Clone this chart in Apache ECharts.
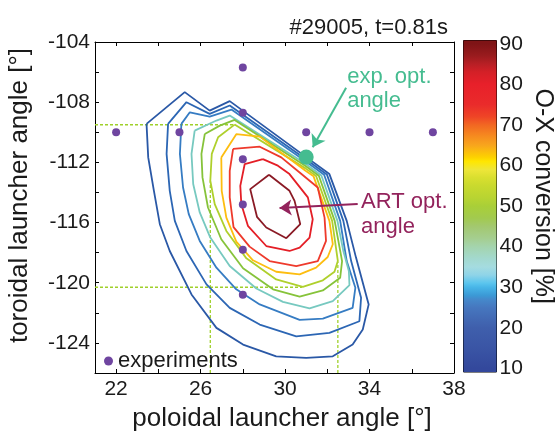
<!DOCTYPE html>
<html><head><meta charset="utf-8">
<script src="https://cdn.jsdelivr.net/npm/echarts@6/dist/echarts.min.js"></script>
<style>html,body{margin:0;padding:0;background:#fff}#c{width:558px;height:432px}</style>
</head><body><div id="c"></div>
<script>
// ---- data ----
const xTicks = [22,24,26,28,30,32,34,36,38];
const xTickLabels = [22,26,30,34,38];
const yTicks = [-126,-124,-122,-120,-118,-116,-114,-112,-110,-108,-106,-104];
const yTickLabels = [-124,-120,-116,-112,-108,-104];
const cbTickLabels = [10,20,30,40,50,60,70,80,90];
const cbMin = 9.1, cbMax = 90.8;
const cbValues = [9.1,10,15,20,22,25,27,28,30,31,33,35,37,40,42,45,47,50,52,55,57,59,61,62,65,67,70,72,75,80,83,85,87,90,90.8];
const cbColors = ['#33489c','#33489c','#3a55a5','#3f5fac','#4268b3','#4677bf','#4589cb','#3b9ad6','#48b6e8','#5bc5ee','#8fd4e8','#a5dce0','#a3d9cf','#a4d4ad','#a5ce90','#a3c86f','#a2ca4f','#a9cf38','#b8d432','#c9da2e','#d9df2f','#eee639','#ffe600','#fdd200','#f8a51d','#f68e1f','#f26722','#ef4526','#ea2b2b','#e8202a','#d42027','#b81f25','#9a1b1e','#7f1416','#7f1416'];

const expX = [22,25,31,34,37,28,28,28,28,28,28];
const expY = [-110,-110,-110,-110,-110,-105.7,-108.7,-111.8,-114.8,-117.8,-120.8];
const optX = [31];
const optY = [-111.65];

const contour1 = [[23.44,-109.44],[25.25,-107.33],[26.43,-108.56],[27.38,-107.93],[30.97,-111.62],[32.10,-112.78],[32.92,-115.89],[33.36,-118.33],[33.96,-121.44],[33.68,-123.11],[33.20,-124.11],[32.26,-124.89],[31.0,-125.0],[29.58,-124.89],[28.01,-124.11],[26.75,-123.0],[25.57,-120.78],[24.54,-117.89],[24.07,-116.11],[23.79,-113.89],[23.52,-111.67],[23.44,-109.44]];
const contour2 = [[24.46,-109.44],[25.33,-108.0],[26.43,-108.78],[27.38,-108.22],[30.97,-111.78],[31.98,-112.8],[32.76,-115.89],[33.13,-118.56],[33.60,-121.0],[33.52,-122.56],[32.10,-123.33],[30.53,-123.56],[28.80,-122.78],[27.38,-121.67],[26.28,-120.11],[25.33,-117.89],[24.78,-115.89],[24.54,-113.89],[24.39,-111.44],[24.46,-109.44]];
const contour3 = [[25.09,-109.44],[25.49,-108.67],[26.43,-108.96],[27.46,-108.49],[30.97,-111.93],[31.85,-112.82],[32.61,-115.89],[32.92,-118.56],[33.33,-120.33],[33.20,-121.67],[31.79,-122.38],[30.69,-122.47],[28.80,-121.44],[27.69,-120.44],[26.75,-119.0],[25.96,-117.22],[25.44,-115.44],[25.17,-113.67],[25.02,-111.44],[25.09,-109.44]];
const contour4 = [[25.72,-109.89],[26.75,-109.22],[27.38,-108.89],[30.97,-112.09],[31.72,-112.87],[32.48,-115.89],[32.76,-117.89],[33.02,-119.22],[33.05,-120.16],[32.26,-121.22],[31.16,-121.71],[29.90,-121.27],[28.64,-120.38],[27.38,-118.89],[26.46,-117.0],[25.96,-115.33],[25.65,-113.44],[25.57,-111.44],[25.72,-109.89]];
const contour5 = [[26.20,-110.11],[26.91,-109.56],[27.61,-109.18],[30.97,-112.24],[31.60,-112.89],[32.35,-115.89],[32.70,-118.56],[32.61,-119.67],[31.79,-120.51],[30.69,-120.93],[29.43,-120.44],[28.01,-119.04],[26.98,-117.11],[26.35,-115.0],[26.09,-113.0],[26.04,-111.44],[26.20,-110.11]];
const contour6 = [[27.61,-109.49],[30.97,-112.4],[31.47,-112.91],[32.23,-115.89],[32.50,-118.56],[32.34,-119.27],[31.79,-119.84],[30.84,-120.27],[29.58,-119.78],[28.17,-118.38],[27.22,-116.56],[26.67,-114.78],[26.46,-113.22],[26.53,-111.44],[26.83,-110.33],[27.61,-109.49]];
const contour7 = [[26.98,-111.67],[27.69,-110.13],[28.80,-110.29],[30.97,-112.56],[31.35,-112.93],[32.10,-115.89],[32.26,-117.44],[32.02,-118.29],[31.47,-119.0],[30.69,-119.44],[29.58,-119.27],[28.48,-118.51],[27.69,-117.27],[27.22,-115.67],[27.0,-113.89],[26.98,-111.67]];
const contour8 = [[27.54,-111.11],[28.80,-110.96],[29.82,-111.67],[30.69,-112.67],[31.55,-113.67],[31.87,-115.67],[31.94,-117.22],[31.55,-118.56],[30.53,-118.89],[29.27,-118.56],[28.32,-117.6],[27.56,-116.3],[27.38,-114.33],[27.38,-112.56],[27.54,-111.11]];
const contour9 = [[28.95,-111.78],[29.66,-112.22],[30.21,-112.78],[31.08,-114.33],[31.31,-115.78],[31.16,-117.0],[30.69,-117.67],[30.21,-117.89],[29.11,-117.56],[28.24,-116.22],[27.93,-114.78],[27.88,-113.56],[28.09,-112.11],[28.95,-111.78]];
const contour10 = [[29.24,-112.82],[30.21,-113.89],[30.45,-114.56],[30.72,-116.11],[30.06,-117.04],[29.11,-116.33],[28.67,-115.62],[28.35,-113.78],[29.24,-112.82]];
const contourLines = [contour1,contour2,contour3,contour4,contour5,contour6,contour7,contour8,contour9,contour10];
const contourColors = ['#2a58a6','#2c66b4','#367cc3','#77c9c0','#86c33a','#afd02c','#fdbd10','#ee3a2c','#e41e26','#8a1a25'];

const dashTop = [[21,-109.5],[27.55,-109.5]];
const dashBottom = [[21,-120.3],[30.8,-120.3]];
const dashLeft = [[26.46,-126],[26.46,-113.2]];
const dashRight = [[32.5,-126],[32.5,-118.6]];

const expArrow = [[32.89,-107.04],[31.31,-111.0]];
const artArrow = [[33.44,-114.77],[29.74,-115.04]];
const expLabelPos = [32.94,-107.15];
const artLabelPos = [33.6,-115.49];

// ---- chart ----
const FONT = 'Liberation Sans';
const TXT = '#1a1a1a';
const chart = echarts.init(document.getElementById('c'), null, {renderer:'canvas'});

const span = cbMax - cbMin;
const stops = cbValues.map((v,i)=>({offset: Math.min(1,Math.max(0,(v-cbMin)/span)), color: cbColors[i]}));

const axisCommon = {
  axisLine:{show:true,onZero:false,lineStyle:{color:'#000',width:1}},
  splitLine:{show:false}
};

const series = [];
[dashTop,dashBottom,dashLeft,dashRight].forEach(d=>{
  series.push({type:'line',data:d,xAxisIndex:0,yAxisIndex:0,showSymbol:false,symbol:'none',z:2,
    lineStyle:{color:'#9fd02a',width:1.3,type:[3,2],opacity:1},silent:true});
});
contourLines.forEach((d,i)=>{
  series.push({type:'line',data:d,xAxisIndex:0,yAxisIndex:0,showSymbol:false,symbol:'none',z:3,
    lineStyle:{color:contourColors[i],width:1.8,opacity:1},silent:true});
});
series.push({type:'lines',coordinateSystem:'cartesian2d',xAxisIndex:0,yAxisIndex:0,z:5,
  symbol:['none','arrow'],symbolSize:12,
  data:[{coords:expArrow}],lineStyle:{color:'#45bc90',width:2,opacity:1,curveness:0},silent:true});
series.push({type:'lines',coordinateSystem:'cartesian2d',xAxisIndex:0,yAxisIndex:0,z:5,
  symbol:['none','arrow'],symbolSize:12,
  data:[{coords:artArrow}],lineStyle:{color:'#93235c',width:2,opacity:1,curveness:0},silent:true});
series.push({name:'experiments',type:'scatter',xAxisIndex:0,yAxisIndex:0,z:6,
  data:expX.map((x,i)=>[x,expY[i]]),symbolSize:8,itemStyle:{color:'#6f45a0',opacity:1}});
series.push({type:'scatter',xAxisIndex:0,yAxisIndex:0,z:6,
  data:optX.map((x,i)=>[x,optY[i]]),symbolSize:15,itemStyle:{color:'#45bc90',opacity:1}});
series.push({type:'scatter',xAxisIndex:0,yAxisIndex:0,z:7,symbolSize:0,itemStyle:{opacity:1},
  data:[expLabelPos],label:{show:true,position:'right',distance:0,formatter:'exp. opt.\nangle',
    fontFamily:FONT,fontSize:22,lineHeight:24,color:'#45bc90',align:'left'}});
series.push({type:'scatter',xAxisIndex:0,yAxisIndex:0,z:7,symbolSize:0,itemStyle:{opacity:1},
  data:[artLabelPos],label:{show:true,position:'right',distance:0,formatter:'ART opt.\nangle',
    fontFamily:FONT,fontSize:22,lineHeight:25,color:'#93235c',align:'left'}});
// colorbar
series.push({type:'bar',xAxisIndex:2,yAxisIndex:2,stack:'cb',barWidth:'100%',data:[cbMin],
  itemStyle:{color:'rgba(0,0,0,0)'},silent:true});
series.push({type:'bar',xAxisIndex:2,yAxisIndex:2,stack:'cb',barWidth:'100%',data:[cbMax-cbMin],
  itemStyle:{color:{type:'linear',x:0,y:1,x2:0,y2:0,colorStops:stops}},silent:true});

chart.setOption({
  animation:false,
  backgroundColor:'#fff',
  textStyle:{fontFamily:FONT},
  title:{text:'#29005, t=0.81s',right:105,top:12,textStyle:{fontFamily:FONT,fontSize:22,fontWeight:'normal',color:TXT}},
  legend:{data:[{name:'experiments',icon:'circle'}],left:99,top:345,itemWidth:9,itemHeight:9,itemGap:5,
    textStyle:{fontFamily:FONT,fontSize:22,color:TXT}},
  grid:[
    {left:95,top:42,width:359,height:331,outerBoundsMode:'none',containLabel:false},
    {left:463.5,top:40.5,width:33,height:331.5,show:true,borderColor:'#000',borderWidth:1,backgroundColor:'rgba(0,0,0,0)',outerBoundsMode:'none',containLabel:false}
  ],
  xAxis:[
    Object.assign({type:'value',gridIndex:0,min:21,max:38,position:'bottom',
      axisTick:{show:true,inside:true,length:4,customValues:xTicks,lineStyle:{color:'#000'}},
      axisLabel:{show:true,customValues:xTickLabels,margin:6,fontFamily:FONT,fontSize:21,color:TXT},
      name:'poloidal launcher angle [°]',nameLocation:'middle',nameGap:33,
      nameTextStyle:{fontFamily:FONT,fontSize:26,color:TXT,padding:[0,0,0,15]}},axisCommon),
    Object.assign({type:'value',gridIndex:0,min:21,max:38,position:'top',
      axisTick:{show:true,inside:true,length:4,customValues:xTicks,lineStyle:{color:'#000'}},
      axisLabel:{show:false}},axisCommon),
    {type:'category',gridIndex:1,data:['cb'],show:false}
  ],
  yAxis:[
    Object.assign({type:'value',gridIndex:0,min:-126,max:-104,position:'left',
      axisTick:{show:true,inside:true,length:4,customValues:yTicks,lineStyle:{color:'#000'}},
      axisLabel:{show:true,customValues:yTickLabels,margin:5,fontFamily:FONT,fontSize:21,color:TXT},
      name:'toroidal launcher angle [°]',nameLocation:'middle',nameRotate:90,nameGap:62,
      nameTextStyle:{fontFamily:FONT,fontSize:26,color:TXT,padding:[0,0,0,24]}},axisCommon),
    Object.assign({type:'value',gridIndex:0,min:-126,max:-104,position:'right',
      axisTick:{show:true,inside:true,length:4,customValues:yTicks,lineStyle:{color:'#000'}},
      axisLabel:{show:false}},axisCommon),
    {type:'value',gridIndex:1,min:cbMin,max:cbMax,position:'right',
      axisLine:{show:false},axisTick:{show:false},splitLine:{show:false},
      axisLabel:{show:true,customValues:cbTickLabels,margin:3,fontFamily:FONT,fontSize:21,color:TXT},
      name:'O-X conversion [%]',nameLocation:'middle',nameRotate:-90,nameGap:34,
      nameTextStyle:{fontFamily:FONT,fontSize:25,color:TXT,padding:[0,20,0,0]}}
  ],
  series:series
});
</script></body></html>
